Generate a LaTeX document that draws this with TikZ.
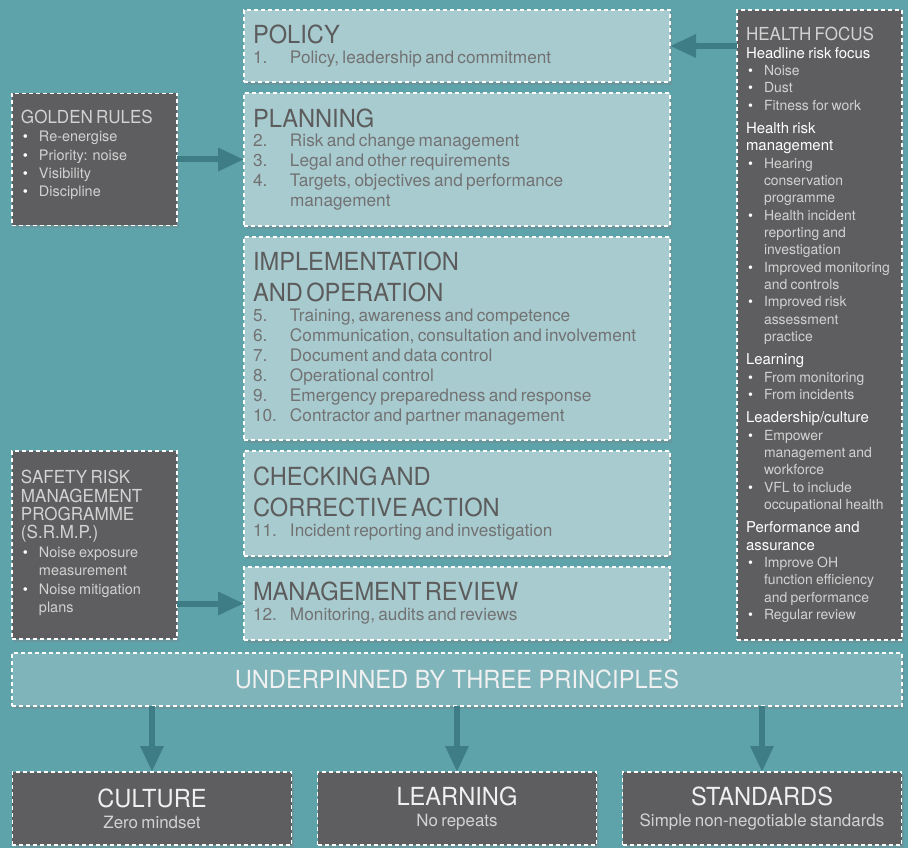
\documentclass[tikz,border=0pt]{standalone}
\usepackage{fontspec}
\setmainfont{TeX Gyre Heros}
\newfontfamily\headfont[FakeStretch=0.95]{TeX Gyre Heros}
\usepackage{xcolor}
\usepackage{tikz}
\usetikzlibrary{positioning,arrows.meta,shadows}
\definecolor{fondo}{HTML}{5FA3AA}
\definecolor{clara}{HTML}{A8CBD0}
\definecolor{banda}{HTML}{80B4BB}
\definecolor{oscura}{HTML}{5E5E60}
\definecolor{flechacol}{HTML}{3F7D86}
\definecolor{grisfuerte}{HTML}{5C5C5C}
\definecolor{grismedio}{HTML}{727272}
\definecolor{grisclaro}{HTML}{D2D2D2}
\setlength{\parindent}{0pt}
\newcommand{\etapa}{\headfont\fontsize{25}{31}\selectfont\color{grisfuerte}}
\newcommand{\pasos}{\fontsize{17.3}{20}\selectfont\color{grismedio}}
\newcommand{\itm}[2]{\makebox[37bp][l]{#1}#2\par}
\newcommand{\aparte}{\headfont\fontsize{18}{18.5}\selectfont\color{grisclaro}}
\newcommand{\notas}{\fontsize{14.5}{18.5}\selectfont\color{grisclaro}}
\newcommand{\tema}[1]{{\fontsize{15}{17.4}\selectfont\color{white}#1\par}}
\newcommand{\bul}[1]{\hangindent=18bp\hangafter=1\makebox[18bp][l]{\hspace{2bp}\textcolor{white}{\textbullet}}#1\par}

\begin{document}
\begin{tikzpicture}[x=1bp,y=1bp,
    marco/.style={draw=white,line width=1.1bp,dash pattern=on 4bp off 3bp,outer sep=0pt,
                  drop shadow={shadow xshift=2bp,shadow yshift=-3bp,opacity=.3}},
    stage/.style={marco,fill=clara,text width=408bp,inner xsep=9bp,inner ysep=4bp,align=left},
    aside/.style={marco,fill=oscura,text width=147bp,inner xsep=9bp,inner ysep=4bp,align=left},
    band/.style={marco,fill=banda,minimum width=890bp,minimum height=53bp,
                 font=\headfont\fontsize{25}{25}\selectfont,text=white!94!black},
    pillar/.style={marco,fill=oscura,text width=261bp,inner xsep=9bp,minimum height=73bp,align=center},
    >={Triangle[length=26bp,width=22bp]},
    flecha/.style={draw=flechacol,line width=6bp,->},
    node distance=11bp]
  \useasboundingbox (0,0) rectangle (908,848);
  \fill[fondo] (0,0) rectangle (908,848);

  \node[stage,minimum height=72bp,anchor=north west] (pol) at (244,838)
    {{\etapa POLICY\par}\pasos
     \itm{1.}{Policy, leadership and commitment}};
  \node[stage,minimum height=133bp,below=of pol] (plan)
    {{\etapa PLANNING\par}\pasos
     \itm{2.}{Risk and change management}
     \itm{3.}{Legal and other requirements}
     \itm{4.}{Targets, objectives and performance}
     \itm{}{management}};
  \node[stage,minimum height=203bp,below=of plan] (impl)
    {{\etapa IMPLEMENTATION\par AND OPERATION\par}\pasos
     \itm{5.}{Training, awareness and competence}
     \itm{6.}{Communication, consultation and involvement}
     \itm{7.}{Document and data control}
     \itm{8.}{Operational control}
     \itm{9.}{Emergency preparedness and response}
     \itm{10.}{Contractor and partner management}};
  \node[stage,minimum height=105bp,below=of impl] (chk)
    {{\etapa CHECKING AND\par CORRECTIVE ACTION\par}\pasos
     \itm{11.}{Incident reporting and investigation}};
  \node[stage,minimum height=73bp,below=of chk] (rev)
    {{\etapa MANAGEMENT REVIEW\par}\pasos
     \itm{12.}{Monitoring, audits and reviews}};

  \node[aside,minimum height=132bp,left=67bp of plan] (gold)
    {{\aparte GOLDEN RULES\par}\notas
     \bul{Re-energise}
     \bul{Priority: noise}
     \bul{Visibility}
     \bul{Discipline}
     \vspace{9bp}};
  \node[aside,minimum height=188bp,left=67bp of chk.north west,anchor=north east] (srmp)
    {{\aparte SAFETY RISK\par MANAGEMENT\par PROGRAMME\par (S.R.M.P.)\par}\notas
     \bul{Noise exposure\newline measurement}
     \bul{Noise mitigation\newline plans}
     \vspace{4bp}};
  \node[aside,minimum height=630bp,right=67bp of pol.north east,anchor=north west] (hf)
    {{\aparte HEALTH FOCUS\par}\fontsize{14}{17.4}\selectfont\color{grisclaro}
     \tema{Headline risk focus}
     \bul{Noise}
     \bul{Dust}
     \bul{Fitness for work}
     \vspace{6bp}
     \tema{Health risk\newline management}
     \bul{Hearing\newline conservation\newline programme}
     \bul{Health incident\newline reporting and\newline investigation}
     \bul{Improved monitoring\newline and controls}
     \bul{Improved risk\newline assessment\newline practice}
     \vspace{6bp}
     \tema{Learning}
     \bul{From monitoring}
     \bul{From incidents}
     \vspace{6bp}
     \tema{Leadership/culture}
     \bul{Empower\newline management and\newline workforce}
     \bul{VFL to include\newline occupational health}
     \vspace{6bp}
     \tema{Performance and\newline assurance}
     \bul{Improve OH\newline function efficiency\newline and performance}
     \bul{Regular review}};

  \node[band,below=13bp of rev] (base) {UNDERPINNED BY THREE PRINCIPLES};

  \node[pillar,below=66bp of base] (learn)
    {{\headfont\fontsize{25}{25}\selectfont\color{white!94!black}LEARNING\par}
     {\fontsize{17}{21}\selectfont\color{grisclaro}No repeats\par}};
  \node[pillar,left=26bp of learn] (cult)
    {{\headfont\fontsize{25}{25}\selectfont\color{white!94!black}CULTURE\par}
     {\fontsize{17}{21}\selectfont\color{grisclaro}Zero mindset\par}};
  \node[pillar,right=26bp of learn] (std)
    {{\headfont\fontsize{25}{25}\selectfont\color{white!94!black}STANDARDS\par}
     {\fontsize{17}{21}\selectfont\color{grisclaro}Simple non-negotiable standards\par}};

  \draw[flecha] (hf.west |- pol) -- (pol);
  \draw[flecha] (gold) -- (plan);
  \draw[flecha] (srmp.east |- rev) -- (rev);
  \draw[flecha] (base.south -| cult) -- (cult);
  \draw[flecha] (base.south -| learn) -- (learn);
  \draw[flecha] (base.south -| std) -- (std);
\end{tikzpicture}
\end{document}
